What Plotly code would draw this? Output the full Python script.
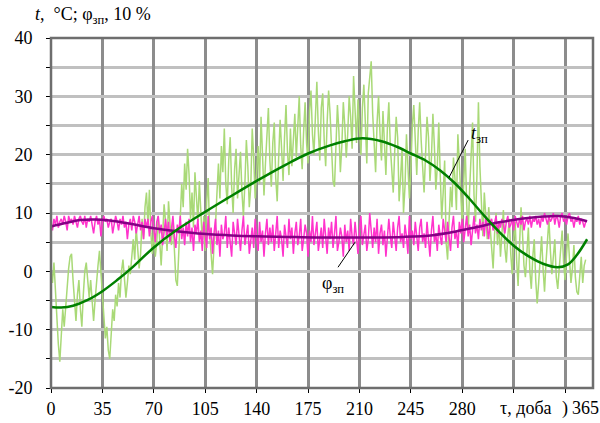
import plotly.graph_objects as go

# ---------------- data ----------------
days = list(range(365))

# daily supply-air temperature t (°C)
t_daily = [
    0.5, -2.0, 1.5, -3.5, -8.0, -12.5, -15.5, -11.0, -6.5, -9.5,
    -5.5, -2.5, 0.5, 2.5, 3.0, -1.5, -5.0, -8.5, -4.0, -1.5,
    -6.5, -9.5, -4.0, 0.0, 1.5, -2.0, -4.5, -1.5, -6.0, -8.5,
    -5.0, -1.5, 1.0, 3.5, -0.5, -5.0, -8.5, -11.5, -9.5, -13.5,
    -15.0, -11.0, -6.5, -8.5, -4.0, -6.0, -2.0, -4.5, 0.0, 2.0,
    -1.5, -4.5, -2.0, 1.0, -0.5, 3.0, 5.5, 2.0, 7.5, 4.0,
    0.5, 3.0, 9.0, 5.5, 11.0, 13.5, 8.0, 14.0, 6.5, 3.0,
    7.5, 2.5, 5.0, 9.5, 4.0, 1.0, 6.0, 11.5, 8.5, 3.5,
    12.0, 7.0, 4.5, 9.0, 2.0, -1.5, -2.5, 3.5, 8.0, 15.0,
    11.0, 18.5, 14.0, 21.0, 16.5, 9.0, 13.5, 7.5, 17.0, 12.0,
    8.5, 15.5, 11.0, 5.0, 9.5, 3.5, 12.0, 16.0, 6.5, 2.0,
    -0.5, 4.5, 8.0, 13.5, 18.5, 12.5, 21.5, 17.0, 24.5, 15.0,
    11.5, 19.0, 23.0, 14.5, 10.0, 17.5, 21.0, 12.5, 16.0, 20.5,
    13.5, 9.5, 15.0, 22.5, 18.0, 11.0, 14.5, 24.5, 19.5, 12.5,
    17.0, 21.5, 15.0, 26.5, 20.0, 13.0, 18.5, 24.0, 28.0, 19.0,
    14.5, 22.0, 25.5, 16.0, 12.0, 19.5, 26.0, 21.0, 15.5, 23.0,
    28.5, 20.5, 16.5, 24.5, 18.0, 22.5, 27.0, 19.5, 25.0, 30.0,
    21.5, 17.5, 24.0, 29.0, 22.0, 18.5, 27.5, 31.0, 23.5, 20.0,
    26.5, 32.5, 24.0, 19.0, 28.0, 30.5, 22.5, 18.0, 25.5, 31.0,
    27.0, 20.5, 15.5, 14.5, 22.0, 28.5, 24.0, 17.0, 21.5, 29.0,
    25.0, 19.5, 23.5, 30.0, 26.5, 21.0, 33.5, 27.5, 22.0, 29.5,
    24.5, 20.0, 28.0, 32.0, 25.5, 18.5, 30.5, 34.0, 36.0, 27.0,
    21.0, 17.0, 25.5, 30.0, 23.5, 19.0, 27.5, 22.0, 16.5, 24.5,
    29.0, 21.5, 18.0, 13.5, 20.5, 26.5, 23.0, 12.0, 16.0, 21.0,
    10.0, 14.5, 23.5, 19.0, 12.5, 17.5, 25.0, 28.5, 21.0, 16.5,
    24.0, 29.0, 22.5, 17.0, 13.5, 20.0, 26.5, 23.0, 15.5, 19.5,
    27.0, 21.5, 14.0, 18.0, 25.5, 16.5, 9.0, 13.5, 19.0, 5.0,
    2.0, 8.5, 14.5, 11.0, 19.5, 16.0, 10.5, 23.5, 18.0, 12.0,
    8.0, 15.5, 21.0, 11.5, 6.5, 14.0, 19.0, 25.5, 13.0, 8.5,
    16.5, 29.0, 18.0, 10.0, 6.0, 13.5, 9.0, 5.5, 11.0, 7.5,
    3.5, 0.5, 6.5, 10.0, 4.5, 8.5, 2.5, 7.0, 10.5, 4.0,
    1.5, 6.0, 9.0, 3.0, -0.5, 5.5, 8.5, 2.0, -2.5, 4.5,
    11.0, 6.5, 1.0, -1.0, 3.5, 7.5, 0.0, -3.0, 2.5, 5.5,
    -1.5, -5.5, -2.0, 2.0, 6.0, 0.5, -3.5, 1.5, 4.5, 9.0,
    3.5, -0.5, 2.5, 5.5, -1.0, -3.0, 0.5, 4.0, 7.0, 1.5,
    -1.5, 3.0, 6.5, 2.0, -2.0, 0.5, 4.5, -1.0, -3.5, -4.0,
    -0.5, 2.5, -2.0, 1.0, 2.0,
]

# daily relative humidity φ (in units of 10 %)
phi_daily = [
    8.5, 7.0, 9.0, 8.0, 9.5, 7.5, 8.5, 9.0, 8.0, 9.5,
    8.5, 7.0, 9.5, 8.5, 9.0, 8.0, 9.5, 8.5, 7.5, 9.0,
    9.5, 8.5, 8.0, 9.5, 7.5, 9.0, 8.5, 9.5, 8.0, 6.5,
    8.5, 9.5, 8.0, 9.0, 6.0, 8.5, 9.5, 8.5, 9.0, 7.5,
    8.5, 9.0, 6.5, 8.0, 9.5, 8.5, 7.0, 9.0, 8.0, 9.5,
    7.5, 8.5, 5.5, 8.0, 9.0, 7.0, 9.5, 8.5, 6.5, 8.0,
    9.5, 7.0, 8.5, 5.5, 9.0, 7.5, 9.0, 6.0, 8.5, 9.5,
    7.0, 5.0, 8.5, 9.5, 6.5, 8.0, 4.5, 7.5, 9.0, 6.0,
    8.5, 5.0, 7.0, 9.5, 6.0, 4.0, 8.0, 6.5, 9.5, 5.5,
    7.5, 4.5, 8.5, 6.0, 9.0, 5.0, 7.5, 3.5, 8.0, 6.5,
    9.0, 5.0, 7.0, 3.5, 8.5, 6.0, 4.0, 9.5, 5.5, 7.5,
    3.0, 6.5, 9.0, 4.5, 7.0, 2.5, 8.0, 5.5, 6.5, 9.5,
    4.0, 7.5, 5.0, 2.5, 8.5, 6.0, 4.5, 9.0, 5.5, 3.5,
    7.0, 9.5, 4.5, 6.5, 8.0, 3.0, 5.5, 7.5, 4.0, 9.0,
    6.0, 3.5, 8.5, 5.0, 7.0, 2.5, 6.5, 9.0, 4.5, 7.5,
    5.0, 8.0, 3.5, 6.5, 9.5, 4.0, 7.0, 5.5, 2.5, 8.0,
    6.0, 4.0, 9.0, 5.5, 7.5, 3.0, 6.5, 8.5, 4.5, 6.0,
    9.0, 3.5, 5.5, 8.0, 6.5, 2.5, 7.0, 5.0, 9.5, 4.5,
    6.5, 8.5, 3.5, 5.5, 7.5, 4.0, 9.0, 6.0, 3.0, 7.5,
    5.5, 8.5, 4.0, 6.5, 9.5, 3.5, 5.0, 7.5, 6.0, 2.5,
    8.0, 5.0, 7.0, 3.5, 9.0, 6.0, 4.5, 8.5, 5.5, 3.0,
    7.0, 9.5, 4.5, 6.0, 8.0, 3.5, 5.5, 10.0, 6.5, 4.0,
    7.5, 5.0, 9.0, 3.0, 6.5, 8.0, 4.5, 7.0, 2.5, 5.5,
    9.0, 6.0, 4.0, 8.5, 5.5, 3.5, 7.5, 9.5, 5.0, 6.5,
    4.0, 8.0, 6.0, 3.0, 9.5, 5.5, 7.0, 4.5, 8.5, 6.0,
    3.5, 7.5, 9.0, 5.0, 6.5, 4.0, 8.5, 5.5, 2.5, 7.0,
    9.5, 5.0, 6.5, 3.5, 8.0, 6.0, 4.5, 9.0, 7.0, 5.0,
    8.5, 6.0, 3.5, 7.5, 9.5, 5.5, 7.0, 4.0, 8.5, 6.5,
    9.0, 5.0, 7.5, 9.5, 6.0, 8.0, 4.5, 7.0, 9.5, 6.5,
    8.0, 5.5, 9.0, 7.0, 8.5, 6.0, 9.5, 7.5, 5.5, 8.5,
    9.0, 7.0, 8.0, 9.5, 6.5, 8.5, 7.5, 9.0, 8.0, 6.5,
    8.5, 9.5, 7.5, 8.0, 9.0, 7.0, 9.5, 8.5, 7.5, 9.0,
    8.0, 9.5, 7.0, 8.5, 9.0, 8.0, 9.5, 7.5, 9.0, 8.5,
    9.5, 8.0, 9.0, 7.5, 9.5, 8.5, 10.0, 9.0, 8.0, 9.5,
    8.5, 9.0, 10.0, 8.0, 9.5, 9.0, 7.5, 9.5, 10.0, 8.5,
    9.0, 8.0, 9.5, 10.0, 8.5, 9.0, 7.5, 9.0, 8.5, 9.5,
    8.0, 9.0, 8.5, 7.5, 8.5,
]

# smoothed design curve t_зп (°C)
t_zp_days = [0, 7, 15, 25, 35, 45, 55, 70, 85, 105, 120, 140, 160, 175, 190,
             200, 212, 225, 235, 245, 255, 265, 275, 285, 295, 305, 315, 325,
             335, 345, 352, 358, 365]
t_zp_vals = [-6.1, -6.2, -5.9, -4.9, -3.4, -1.5, 0.6, 4.1, 7.0, 10.2, 12.5, 15.5,
             18.3, 20.2, 21.6, 22.3, 22.8, 22.3, 21.4, 20.2, 19.0, 17.3, 15.1,
             12.4, 9.5, 6.8, 4.4, 2.6, 1.3, 0.7, 1.2, 2.8, 5.5]

# smoothed design curve φ_зп (10 %)
phi_zp_days = [0, 10, 20, 30, 40, 55, 70, 85, 100, 120, 140, 160, 180, 200, 220,
               240, 260, 275, 290, 305, 320, 335, 345, 355, 365]
phi_zp_vals = [7.7, 8.3, 8.8, 8.9, 8.7, 8.1, 7.4, 6.9, 6.5, 6.2, 6.0, 5.9, 5.8,
               5.8, 5.8, 5.9, 6.2, 6.8, 7.6, 8.4, 9.0, 9.4, 9.5, 9.2, 8.6]

x_tick_vals = [0, 35, 70, 105, 140, 175, 210, 245, 280]
x_tick_text = ["0", "35", "70", "105", "140", "175", "210", "245", "280"]
y_tick_vals = [-20, -10, 0, 10, 20, 30, 40]
y_tick_text = ["-20", "-10", "0", "10", "20", "30", "40"]

assert len(t_daily) == 365 and len(phi_daily) == 365

# ---------------- figure ----------------
FONT = "Liberation Serif"
FS = 18

fig = go.Figure()
fig.add_trace(go.Scatter(x=days, y=t_daily, mode="lines",
                         line=dict(color="#a9d977", width=1.5), hoverinfo="skip"))
fig.add_trace(go.Scatter(x=days, y=phi_daily, mode="lines",
                         line=dict(color="#ff33cc", width=1.5), hoverinfo="skip"))
fig.add_trace(go.Scatter(x=phi_zp_days, y=phi_zp_vals, mode="lines",
                         line=dict(color="#840084", width=2.5, shape="spline", smoothing=1.0)))
fig.add_trace(go.Scatter(x=t_zp_days, y=t_zp_vals, mode="lines",
                         line=dict(color="#008000", width=2.5, shape="spline", smoothing=1.0)))

W, H = 600, 423
L, R, T, B = 51, 7, 38, 35

fig.update_layout(
    width=W, height=H,
    margin=dict(l=L, r=R, t=T, b=B, autoexpand=False),
    paper_bgcolor="white", plot_bgcolor="white",
    showlegend=False,
    font=dict(family=FONT, size=FS, color="black"),
    xaxis=dict(range=[0, 369], tickmode="array", tickvals=x_tick_vals, ticktext=x_tick_text,
               showgrid=True, gridcolor="#8c8c8c", gridwidth=3,
               ticks="outside", ticklen=4, tickcolor="black",
               minor=dict(tick0=0, dtick=35, ticks="outside", ticklen=4, tickcolor="black",
                          showgrid=True, gridcolor="#8c8c8c", gridwidth=3),
               showline=False, zeroline=False, fixedrange=True,
               tickfont=dict(family=FONT, size=FS)),
    yaxis=dict(range=[-20, 40], tickmode="array", tickvals=y_tick_vals, ticktext=y_tick_text,
               showgrid=True, gridcolor="#c0c0c0", gridwidth=3,
               ticks="outside", ticklen=4, tickcolor="black", ticklabelstandoff=10,
               minor=dict(tick0=0, dtick=5, ticks="outside", ticklen=4, tickcolor="black",
                          showgrid=True, gridcolor="#c0c0c0", gridwidth=3),
               showline=False, zeroline=False, fixedrange=True,
               tickfont=dict(family=FONT, size=FS)),
)

# plot-area border
fig.add_shape(type="rect", xref="paper", yref="paper", x0=0, y0=0, x1=1, y1=1,
              line=dict(color="#6e6e6e", width=2.5), layer="above")

# leader lines for the curve labels
fig.add_shape(type="line", xref="x", yref="y", x0=271, y0=16.1, x1=284, y1=22.5,
              line=dict(color="black", width=1))
fig.add_shape(type="line", xref="x", yref="y", x0=195.4, y0=0.7, x1=207, y1=5.0,
              line=dict(color="black", width=1))

fig.add_annotation(x=284.5, y=23.4, xref="x", yref="y", xanchor="left", yanchor="middle",
                   text="<i>t</i><sub>зп</sub>", showarrow=False,
                   font=dict(family=FONT, size=FS))
fig.add_annotation(x=192, y=-2.2, xref="x", yref="y", xanchor="center", yanchor="middle",
                   text="φ<sub>зп</sub>", showarrow=False,
                   font=dict(family=FONT, size=FS))

# pixel-positioned labels (converted to paper coordinates)
pw, ph = W - L - R, H - T - B
def px(x, y):
    return (x - L) / pw, (H - B - y) / ph

for text, x, y, anchor in [
    ("<i>t</i>,  °C; φ<sub>зп</sub>, 10 %", 33, 16, "left"),
    ("τ, доба", 498, 408, "left"),
    (")", 560, 408, "left"),
    ("365", 570, 408, "left"),
]:
    xp, yp = px(x, y)
    fig.add_annotation(x=xp, y=yp, xref="paper", yref="paper", text=text,
                       showarrow=False, xanchor=anchor, yanchor="middle",
                       font=dict(family=FONT, size=FS))

fig.write_html("out.html", config={"displayModeBar": False},
               post_script="document.body.style.margin='0px';")
